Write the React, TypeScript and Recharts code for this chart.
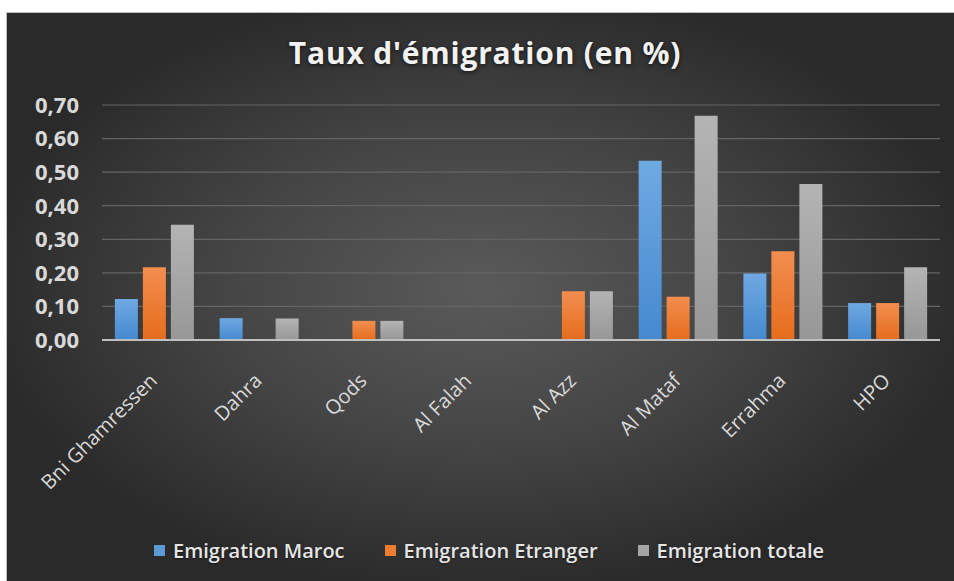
import { BarChart, Bar, XAxis, YAxis, CartesianGrid, Legend } from "recharts";

const categories = ["Bni Ghamressen", "Dahra", "Qods", "Al Falah", "Al Azz", "Al Mataf", "Errahma", "HPO"];
const maroc = [0.122, 0.065, 0, 0, 0, 0.534, 0.198, 0.11];
const etranger = [0.217, 0, 0.057, 0, 0.145, 0.129, 0.264, 0.11];
const totale = [0.343, 0.064, 0.057, 0, 0.145, 0.668, 0.465, 0.217];
const yTicks = [0, 0.1, 0.2, 0.3, 0.4, 0.5, 0.6, 0.7];

const series = [
    { key: "maroc", name: "Emigration Maroc", color: "#5b9bd5", top: "#6fa9e2", bottom: "#4589cf" },
    { key: "etranger", name: "Emigration Etranger", color: "#ed7d31", top: "#f28e50", bottom: "#e66c1c" },
    { key: "totale", name: "Emigration totale", color: "#a5a5a5", top: "#b4b4b4", bottom: "#979797" },
];

const data = categories.map((name, i) => ({
    name,
    maroc: maroc[i],
    etranger: etranger[i],
    totale: totale[i],
}));

const FONT = "'Open Sans', 'DejaVu Sans', sans-serif";
const W = 948;
const H = 569;

function XTick(props: any) {
    const { x, y, payload } = props;
    return (
        <g transform={`translate(${x + 4},${y + 34})`}>
            <text
                x={0}
                y={0}
                textAnchor="end"
                transform="rotate(-45)"
                fill="#d9d9d9"
                fontSize={20}
                fontFamily={FONT}
            >
                {payload.value}
            </text>
        </g>
    );
}

function LegendContent() {
    return (
        <div
            style={{
                width: W,
                display: "flex",
                justifyContent: "center",
                paddingLeft: 18,
                boxSizing: "border-box",
                fontFamily: FONT,
                fontSize: 20,
                fontWeight: 600,
                color: "#e6e6e6",
                height: 30,
                alignItems: "center",
            }}
        >
            {series.map((s, i) => (
                <div
                    key={s.key}
                    style={{ display: "flex", alignItems: "center", marginLeft: i === 0 ? 0 : 40 }}
                >
                    <span
                        style={{ width: 11, height: 11, background: s.color, marginRight: 8, display: "inline-block" }}
                    />
                    <span style={{ textShadow: "0 1px 2px rgba(0,0,0,0.5)" }}>{s.name}</span>
                </div>
            ))}
        </div>
    );
}

export default function App() {
    return (
        <div style={{ position: "fixed", left: 0, top: 0, width: 954, height: 581, background: "#fff", overflow: "hidden" }}>
            <div
                style={{
                    position: "absolute",
                    left: 6,
                    top: 12,
                    width: W + 20,
                    height: H + 20,
                    background: "radial-gradient(ellipse 52% 52% at 49% 47%, #5a5a5a 0%, #454545 50%, #2a2a2a 100%)",
                    borderTop: "1px solid #bdbdbd",
                    borderLeft: "1px solid #bdbdbd",
                    boxSizing: "border-box",
                }}
            >
                <div
                    style={{
                        position: "absolute",
                        left: 478,
                        top: 25,
                        transform: "translateX(-50%)",
                        whiteSpace: "nowrap",
                        fontFamily: FONT,
                        fontWeight: 700,
                        fontSize: 30,
                        lineHeight: "30px",
                        letterSpacing: 0.8,
                        color: "#f2f2f2",
                        textShadow: "0 1px 4px rgba(0,0,0,0.7)",
                    }}
                >
                    Taux d'émigration (en %)
                </div>
                <div style={{ position: "absolute", left: -1, top: -1 }}>
                    <BarChart
                        width={W}
                        height={H}
                        data={data}
                        margin={{ top: 93, right: 14, left: 0, bottom: 0 }}
                        barCategoryGap="12.3%"
                        barGap={5}
                    >
                        <defs>
                            {series.map((s) => (
                                <linearGradient key={s.key} id={`grad-${s.key}`} x1="0" y1="0" x2="0" y2="1">
                                    <stop offset="0%" stopColor={s.top} />
                                    <stop offset="100%" stopColor={s.bottom} />
                                </linearGradient>
                            ))}
                        </defs>
                        <CartesianGrid vertical={false} stroke="#646464" strokeWidth={1.2} />
                        <XAxis
                            dataKey="name"
                            height={211}
                            interval={0}
                            tick={<XTick />}
                            tickLine={false}
                            axisLine={{ stroke: "#bfbfbf", strokeWidth: 2 }}
                        />
                        <YAxis
                            width={96}
                            domain={[0, 0.7]}
                            ticks={yTicks}
                            tickFormatter={(v: number) => v.toFixed(2).replace(".", ",")}
                            tick={{ fill: "#d9d9d9", fontSize: 22, fontWeight: 700, fontFamily: FONT }}
                            tickLine={false}
                            axisLine={false}
                            tickMargin={17}
                        />
                        <Legend
                            verticalAlign="bottom"
                            content={<LegendContent />}
                            wrapperStyle={{ top: 523, left: 0, width: W, height: 30 }}
                        />
                        {series.map((s) => (
                            <Bar
                                key={s.key}
                                dataKey={s.key}
                                name={s.name}
                                fill={`url(#grad-${s.key})`}
                                isAnimationActive={false}
                            />
                        ))}
                    </BarChart>
                </div>
            </div>
        </div>
    );
}
